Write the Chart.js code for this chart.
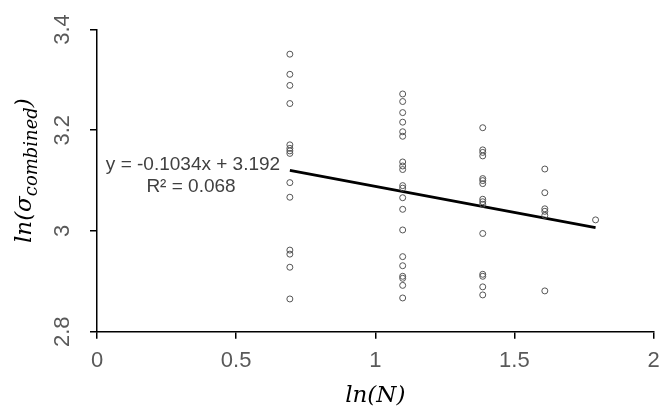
<!DOCTYPE html>
<html>
<head>
<meta charset="utf-8">
<script src="https://cdn.jsdelivr.net/npm/chart.js@4/dist/chart.umd.min.js"></script>
<style>
  body { margin: 0; background: #fff; }
  #wrap { width: 671px; height: 416px; }
</style>
</head>
<body>
<div id="wrap"><canvas id="chart"></canvas></div>
<script>
'use strict';

// x positions of the groups, ln(N) for N = 2..6
var xGroups = [0.6931, 1.0986, 1.3863, 1.6094, 1.7918];

// ln(sigma combined) values
var group1 = [3.351, 3.311, 3.289, 3.253, 3.171, 3.164, 3.159, 3.154, 3.096, 3.067, 2.962, 2.954, 2.928, 2.865];
var group2 = [3.272, 3.257, 3.235, 3.216, 3.197, 3.188, 3.137, 3.129, 3.122, 3.090, 3.085, 3.066, 3.043, 3.002, 2.949, 2.931, 2.910, 2.906, 2.892, 2.867];
var group3 = [3.205, 3.161, 3.156, 3.149, 3.104, 3.100, 3.094, 3.063, 3.058, 3.053, 2.995, 2.914, 2.910, 2.889, 2.873];
var group4 = [3.123, 3.076, 3.044, 3.039, 3.031, 2.881];
var group5 = [3.022];
var allGroups = [group1, group2, group3, group4, group5];

// linear trendline (excel style)
var trendSlope = -0.1034;
var trendIntercept = 3.192;
var eqLabel = 'y = -0.1034x + 3.192';
var r2Label = 'R\u00b2 = 0.068';

// axis ticks
var xTicks = [0, 0.5, 1, 1.5, 2];
var yTicks = [2.8, 3, 3.2, 3.4];

// build the scatter points
var points = [];
for (var i = 0; i < allGroups.length; i++) {
  for (var j = 0; j < allGroups[i].length; j++) {
    points.push({x: xGroups[i], y: allGroups[i][j]});
  }
}

// trendline goes from the first to the last group
var xMin = xGroups[0];
var xMax = xGroups[xGroups.length - 1];
var trendPoints = [
  {x: xMin, y: trendSlope * xMin + trendIntercept},
  {x: xMax, y: trendSlope * xMax + trendIntercept}
];

var tickFont = {family: '"Liberation Sans", Arial, sans-serif', size: 22};

// plain tick text, no forced decimals
function plainLabel(value) {
  return String(Math.round(value * 10) / 10);
}

// equation text and the y title with its subscript
var textPlugin = {
  id: 'extraText',
  afterDraw: function(chart) {
    var ctx = chart.ctx;
    var area = chart.chartArea;
    ctx.save();
    ctx.fillStyle = '#404040';
    ctx.font = '19px "Liberation Sans", Arial, sans-serif';
    ctx.textAlign = 'center';
    ctx.textBaseline = 'middle';
    ctx.fillText(eqLabel, area.left + 96, area.top + 135);
    ctx.fillText(r2Label, area.left + 94, area.top + 157);

    // ln(sigma_combined), rotated
    var mainFont = 'italic 23px "DejaVu Serif", serif';
    var subFont = 'italic 18px "DejaVu Serif", serif';
    ctx.fillStyle = '#000';
    ctx.textAlign = 'left';
    ctx.textBaseline = 'alphabetic';
    ctx.font = mainFont;
    var w1 = ctx.measureText('ln(\u03c3').width;
    var w3 = ctx.measureText(')').width;
    ctx.font = subFont;
    var w2 = ctx.measureText('combined').width;
    var total = w1 + w2 + w3;
    ctx.translate(24, (area.top + area.bottom) / 2 - 10);
    ctx.rotate(-Math.PI / 2);
    var start = -total / 2;
    ctx.font = mainFont;
    ctx.fillText('ln(\u03c3', start, 7);
    ctx.font = subFont;
    ctx.fillText('combined', start + w1, 13);
    ctx.font = mainFont;
    ctx.fillText(')', start + w1 + w2, 7);
    ctx.restore();
  }
};

var ctx = document.getElementById('chart').getContext('2d');
new Chart(ctx, {
  type: 'scatter',
  data: {
    datasets: [{
      label: 'values',
      data: points,
      pointStyle: 'circle',
      pointRadius: 3,
      pointBorderWidth: 1,
      pointBorderColor: '#555555',
      pointBackgroundColor: 'rgba(255,255,255,0)',
      showLine: false
    }, {
      label: 'trend',
      data: trendPoints,
      showLine: true,
      borderColor: '#000',
      borderWidth: 2.7,
      pointRadius: 0
    }]
  },
  options: {
    responsive: true,
    maintainAspectRatio: false,
    animation: false,
    layout: {padding: {top: 29.5, right: 17.5, left: 0, bottom: 0}},
    plugins: {
      legend: {display: false},
      tooltip: {enabled: false}
    },
    scales: {
      x: {
        type: 'linear',
        min: 0,
        max: 2,
        afterBuildTicks: function(scale) {
          scale.ticks = xTicks.map(function(v) { return {value: v}; });
        },
        afterFit: function(scale) { scale.height = 84.3; },
        border: {color: '#000', width: 1.5},
        grid: {drawOnChartArea: false, tickLength: 7, color: '#000', lineWidth: 1.5},
        ticks: {color: '#595959', font: tickFont, padding: 9, maxRotation: 0, callback: plainLabel},
        title: {
          display: true,
          text: 'ln(N)',
          color: '#000',
          font: {family: '"DejaVu Serif", serif', style: 'italic', size: 23},
          padding: {top: 0, bottom: 6}
        }
      },
      y: {
        type: 'linear',
        min: 2.8,
        max: 3.4,
        afterBuildTicks: function(scale) {
          scale.ticks = yTicks.map(function(v) { return {value: v}; });
        },
        afterFit: function(scale) { scale.width = 97; },
        border: {color: '#000', width: 1.5},
        grid: {drawOnChartArea: false, tickLength: 7, color: '#000', lineWidth: 1.5},
        ticks: {color: '#595959', font: tickFont, padding: 12, minRotation: 90, maxRotation: 90, crossAlign: 'center', callback: plainLabel}
      }
    }
  },
  plugins: [textPlugin]
});
</script>
</body>
</html>
